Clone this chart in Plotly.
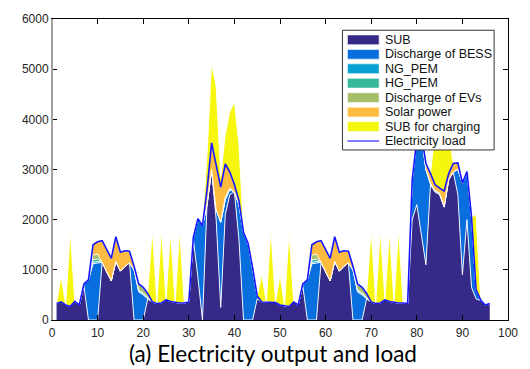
import plotly.graph_objects as go

t = list(range(1, 97))

load = [330, 360, 300, 270, 370, 300, 720, 800, 1500, 1560,
        1580, 1400, 1230, 1660, 1350, 1380, 1370, 1070, 720, 650,
        530, 360, 330, 340, 400, 370, 350, 340, 340, 360,
        1650, 2020, 1880, 2600, 3530, 3050, 2650, 3110, 2950, 2700,
        2380, 1750, 1530, 1040, 480, 360, 360, 350,
        350, 300, 290, 270, 360, 300, 720, 800, 1500, 1560,
        1580, 1400, 1230, 1660, 1350, 1380, 1370, 1070, 720, 650,
        530, 360, 330, 340, 400, 370, 350, 340, 340, 330,
        2800, 3600, 3700, 3120, 2920, 2700, 2630, 2570, 2920, 3120,
        3130, 2730, 2960, 2050, 600, 400, 300, 330]

sub = [330, 360, 300, 270, 370, 300, 680, 0, 0, 0,
       1150, 950, 780, 1170, 975, 1070, 1140, 0, 0, 0,
       420, 360, 330, 340, 400, 370, 350, 340, 340, 360,
       1600, 850, 0, 2300, 3000, 2000, 250, 2100, 2500, 2550,
       1600, 0, 0, 0, 420, 360, 360, 350,
       350, 300, 290, 270, 360, 300, 680, 0, 0, 0,
       1150, 950, 780, 1170, 975, 1070, 1140, 0, 0, 0,
       420, 360, 330, 340, 400, 370, 350, 340, 340, 330,
       2000, 2300, 1700, 1100, 2700, 2550, 2500, 2250, 2800, 2950,
       2500, 900, 2000, 650, 420, 390, 300, 330]

bess = [0, 0, 0, 0, 0, 0, 40, 800, 1120, 1130,
        0, 0, 0, 0, 0, 0, 0, 1000, 560, 500,
        0, 0, 0, 0, 0, 0, 0, 0, 0, 0,
        50, 1170, 1880, 0, 0, 200, 1700, 300, 100, 0,
        700, 1750, 1530, 1040, 60, 0, 0, 0,
        0, 0, 0, 0, 0, 0, 40, 800, 1120, 1130,
        0, 0, 0, 0, 0, 0, 0, 1000, 560, 500,
        0, 0, 0, 0, 0, 0, 0, 0, 0, 0,
        800, 1300, 2000, 1900, 0, 0, 0, 0, 0, 0,
        500, 1830, 960, 1400, 180, 0, 0, 0]

ng_pem = [0, 0, 0, 0, 0, 0, 0, 0, 30, 35,
          0, 0, 0, 0, 0, 0, 0, 0, 20, 20,
          10, 0, 0, 0, 0, 0, 0, 0, 0, 0,
          0, 0, 0, 0, 0, 0, 0, 0, 0, 0,
          0, 0, 0, 0, 0, 0, 0, 0,
          0, 0, 0, 0, 0, 0, 0, 0, 30, 35,
          0, 0, 0, 0, 0, 0, 0, 0, 20, 20,
          10, 0, 0, 0, 0, 0, 0, 0, 0, 0,
          0, 0, 0, 0, 30, 30, 30, 20, 0, 0,
          0, 0, 0, 0, 0, 0, 0, 0]

hg_pem = [0, 0, 0, 0, 0, 0, 0, 0, 50, 50,
          0, 0, 0, 0, 0, 0, 0, 0, 20, 20,
          10, 0, 0, 0, 0, 0, 0, 0, 0, 0,
          0, 0, 0, 0, 0, 0, 0, 0, 0, 0,
          0, 0, 0, 0, 0, 0, 0, 0,
          0, 0, 0, 0, 0, 0, 0, 0, 50, 50,
          0, 0, 0, 0, 0, 0, 0, 0, 20, 20,
          10, 0, 0, 0, 0, 0, 0, 0, 0, 0,
          0, 0, 0, 0, 0, 0, 0, 0, 0, 0,
          0, 0, 0, 0, 0, 0, 0, 0]

ev = [0, 0, 0, 0, 0, 0, 0, 0, 90, 100,
      0, 0, 0, 0, 0, 0, 0, 0, 120, 110,
      90, 0, 0, 0, 0, 0, 0, 0, 0, 0,
      0, 0, 0, 0, 0, 0, 0, 60, 30, 0,
      0, 0, 0, 0, 0, 0, 0, 0,
      0, 0, 0, 0, 0, 0, 0, 0, 90, 100,
      0, 0, 0, 0, 0, 0, 0, 0, 120, 110,
      90, 0, 0, 0, 0, 0, 0, 0, 0, 0,
      0, 0, 0, 0, 0, 0, 0, 0, 0, 0,
      0, 0, 0, 0, 0, 0, 0, 0]

solar = [0, 0, 0, 0, 0, 0, 0, 0, 210, 245,
         430, 450, 450, 490, 375, 310, 230, 70, 0, 0,
         0, 0, 0, 0, 0, 0, 0, 0, 0, 0,
         0, 0, 0, 300, 530, 850, 700, 650, 320, 150,
         80, 0, 0, 0, 0, 0, 0, 0,
         0, 0, 0, 0, 0, 0, 0, 0, 210, 245,
         430, 450, 450, 490, 375, 310, 230, 70, 0, 0,
         0, 0, 0, 0, 0, 0, 0, 0, 0, 0,
         0, 0, 0, 120, 190, 120, 100, 300, 120, 170,
         130, 0, 0, 0, 0, 0, 0, 0]

sub_charging = [0, 520, 0, 1480, 0, 0, 0, 0, 0, 0,
                0, 0, 0, 0, 0, 0, 0, 0, 0, 0,
                0, 1440, 0, 1460, 0, 1380, 0, 1460, 0, 0,
                0, 0, 0, 700, 1600, 1600, 200, 590, 1200, 1650,
                1120, 0, 0, 0, 0, 550, 0, 1450,
                0, 600, 0, 1480, 0, 0, 0, 0, 0, 0,
                0, 0, 0, 0, 0, 0, 0, 0, 0, 0,
                0, 1440, 0, 1460, 0, 1380, 0, 1460, 0, 0,
                0, 0, 0, 0, 0, 1030, 1280, 1180, 770, 0,
                0, 0, 0, 0, 1500, 0]

names = ["SUB", "Discharge of BESS", "NG_PEM", "HG_PEM", "Discharge of EVs",
         "Solar power", "SUB for charging"]
series = [sub, bess, ng_pem, hg_pem, ev, solar, sub_charging]
colors = ["#352A87", "#0A6FDE", "#08A0D2", "#35B89B", "#A6BE6A", "#FDBB3F", "#F6F60F"]
load_name = "Electricity load"
load_color = "#1515FF"

W, H = 530, 369
L_PX, R_PX, T_PX, B_PX = 52, 512, 12, 320


def px(xp):
    return (xp - L_PX) / (R_PX - L_PX)


def py(yp):
    return (B_PX - yp) / (B_PX - T_PX)


fig = go.Figure()
for name, ys, c in zip(names, series, colors):
    fig.add_trace(go.Scatter(
        x=t, y=ys, name=name, mode="lines", stackgroup="one", showlegend=False,
        line=dict(color="rgba(255,255,255,0.9)", width=1),
        fillcolor=c))
fig.add_trace(go.Scatter(x=t, y=load, name=load_name, mode="lines", showlegend=False,
                         line=dict(color=load_color, width=1.6)))

axis_common = dict(showline=True, linecolor="black", linewidth=1, mirror="ticks",
                   ticks="inside", ticklen=5, tickcolor="black", showgrid=False,
                   zeroline=False, tickfont=dict(family="Liberation Sans", size=12, color="#262626"))
fig.update_xaxes(range=[0, 100], tickvals=list(range(0, 101, 10)),
                 ticklabelstandoff=2, **axis_common)
fig.update_yaxes(range=[0, 6000], tickvals=list(range(0, 6001, 1000)), **axis_common)

# manual legend (MATLAB-style compact box)
shapes = [dict(type="line", xref="paper", yref="paper", x0=0, x1=0, y0=0, y1=1,
               line=dict(color="#A0A0A0", width=2), layer="above"),
          dict(type="rect", xref="paper", yref="paper",
               x0=px(345), x1=px(498), y0=py(146), y1=py(23.5),
               fillcolor="white", line=dict(color="#333333", width=1), layer="above")]
annotations = []
row0, step = 33.3, 14.8
for i, (name, c) in enumerate(zip(names + [load_name], colors + [load_color])):
    yc = row0 + i * step
    if i < len(names):
        shapes.append(dict(type="rect", xref="paper", yref="paper",
                           x0=px(350), x1=px(382), y0=py(yc + 5), y1=py(yc - 5),
                           fillcolor=c, line=dict(color="rgba(255,255,255,0.6)", width=1),
                           layer="above"))
    else:
        shapes.append(dict(type="line", xref="paper", yref="paper",
                           x0=px(350), x1=px(382), y0=py(yc), y1=py(yc),
                           line=dict(color="#5555FF", width=1.5), layer="above"))
    annotations.append(dict(text=name, xref="paper", yref="paper", x=px(386), y=py(yc),
                            xanchor="left", yanchor="middle", showarrow=False,
                            font=dict(family="Liberation Sans", size=12.5, color="#111111")))

annotations.append(dict(text="(a) Electricity output and load", xref="paper", yref="paper",
                        x=px(275), y=py(354.5), xanchor="center", yanchor="middle", showarrow=False,
                        font=dict(family="Lato", size=22.5, color="black")))

fig.update_layout(
    width=W, height=H,
    margin=dict(l=L_PX, r=W - R_PX, t=T_PX, b=H - B_PX),
    paper_bgcolor="white", plot_bgcolor="white",
    showlegend=False,
    annotations=annotations,
    shapes=shapes,
)

fig.write_html("out.html")
